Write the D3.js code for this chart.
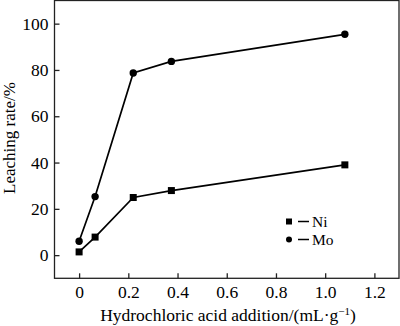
<!DOCTYPE html>
<html><head><meta charset="utf-8">
<script src="https://cdn.jsdelivr.net/npm/d3@7"></script>
<style>body{margin:0;background:#fff}svg{display:block}text{font-family:"Liberation Serif","Times New Roman",serif;fill:#000}</style>
</head><body>
<svg id="c" width="400" height="326"></svg>
<script>
const xValues = [0, 0.065, 0.22, 0.375, 1.08];
const niValues = [1.4, 7.8, 24.9, 27.9, 39.0];
const moValues = [6.0, 25.3, 78.7, 83.7, 95.4];
const xTicks = [0, 0.2, 0.4, 0.6, 0.8, 1.0, 1.2];
const xTickLabels = ["0", "0.2", "0.4", "0.6", "0.8", "1.0", "1.2"];
const yTicks = [0, 20, 40, 60, 80, 100];

const svg = d3.select("#c");
const L = 54.5, R = 399, T = 0.5, B = 278.3;
const x = d3.scaleLinear().domain([-0.1, 1.3]).range([L, R]);
const y = d3.scaleLinear().domain([-10, 110]).range([B, T]);

svg.append("rect").attr("x", L).attr("y", T).attr("width", R - L).attr("height", B - T)
  .attr("fill", "none").attr("stroke", "#222").attr("stroke-width", 1.3);

const xAxis = svg.append("g").attr("transform", `translate(0,${B})`)
  .call(d3.axisBottom(x).tickValues(xTicks).tickSizeInner(-5).tickSizeOuter(0).tickPadding(7)
    .tickFormat((d, i) => xTickLabels[i]));
xAxis.select(".domain").remove();
xAxis.selectAll("line").attr("stroke", "#222").attr("stroke-width", 1.3);
xAxis.selectAll("text").attr("font-size", 17.5).style("font-family", '"Liberation Serif",serif').attr("fill", "#000");

const yAxis = svg.append("g").attr("transform", `translate(${L},0)`)
  .call(d3.axisLeft(y).tickValues(yTicks).tickSizeInner(-5).tickSizeOuter(0).tickPadding(6));
yAxis.select(".domain").remove();
yAxis.selectAll("line").attr("stroke", "#222").attr("stroke-width", 1.3);
yAxis.selectAll("text").attr("font-size", 17.5).style("font-family", '"Liberation Serif",serif').attr("fill", "#000");

const line = d3.line().x(d => x(d[0])).y(d => y(d[1]));
const ni = xValues.map((v, i) => [v, niValues[i]]);
const mo = xValues.map((v, i) => [v, moValues[i]]);

[ni, mo].forEach(s => svg.append("path").attr("d", line(s)).attr("fill", "none")
  .attr("stroke", "#000").attr("stroke-width", 1.7));

svg.selectAll(".sq").data(ni).enter().append("rect")
  .attr("x", d => x(d[0]) - 3.5).attr("y", d => y(d[1]) - 3.5)
  .attr("width", 7).attr("height", 7).attr("fill", "#000");
svg.selectAll(".ci").data(mo).enter().append("circle")
  .attr("cx", d => x(d[0])).attr("cy", d => y(d[1])).attr("r", 3.7).attr("fill", "#000");

// legend
const lg = svg.append("g");
lg.append("rect").attr("x", 286).attr("y", 218.5).attr("width", 6).attr("height", 6).attr("fill", "#000");
lg.append("line").attr("x1", 298).attr("x2", 309).attr("y1", 221.5).attr("y2", 221.5).attr("stroke", "#000").attr("stroke-width", 1.5);
lg.append("text").attr("x", 312).attr("y", 227).attr("font-size", 15.5).text("Ni");
lg.append("circle").attr("cx", 289).attr("cy", 239.5).attr("r", 3).attr("fill", "#000");
lg.append("line").attr("x1", 298).attr("x2", 309).attr("y1", 239.5).attr("y2", 239.5).attr("stroke", "#000").attr("stroke-width", 1.5);
lg.append("text").attr("x", 312).attr("y", 245).attr("font-size", 15.5).text("Mo");

// axis titles
svg.append("text").attr("x", 228).attr("y", 321).attr("text-anchor", "middle").attr("font-size", 17.5)
  .html('Hydrochloric acid addition/(mL·g<tspan dy="-6" font-size="11">−1</tspan><tspan dy="6">)</tspan>');
svg.append("text").attr("transform", "translate(15,138) rotate(-90)").attr("text-anchor", "middle")
  .attr("font-size", 17).text("Leaching rate/%");
</script>
</body></html>
